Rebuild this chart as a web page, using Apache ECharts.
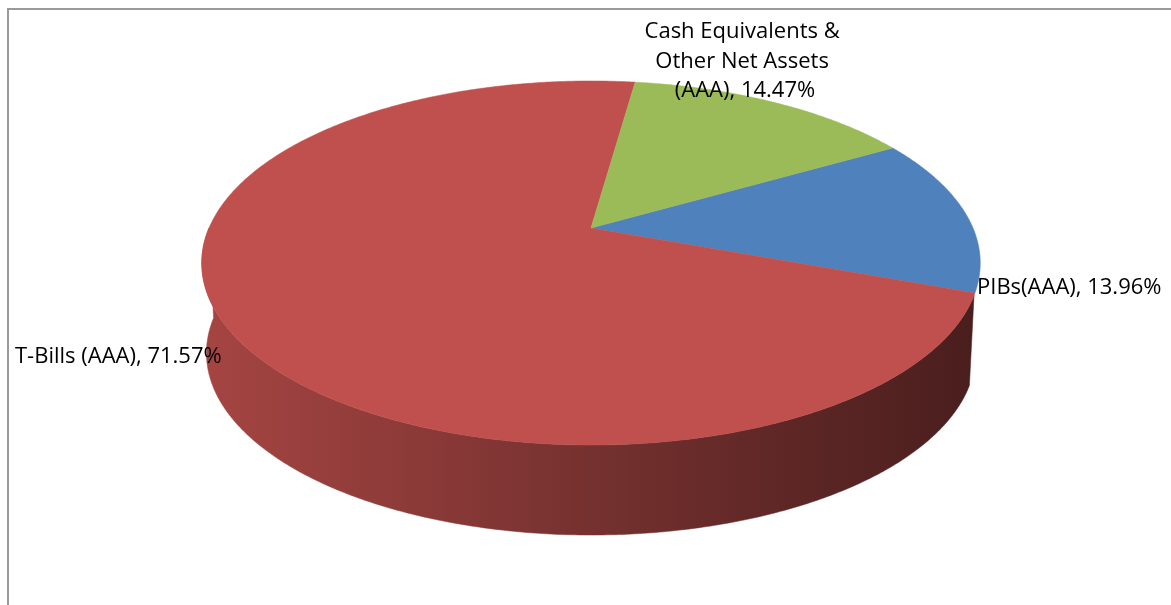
<!DOCTYPE html>
<html>
<head>
<meta charset="utf-8">
<script src="https://cdn.jsdelivr.net/npm/echarts@6/dist/echarts.min.js"></script>
<style>
html,body{margin:0;padding:0;background:#fff;}
#chart{width:1171px;height:605px;}
</style>
</head>
<body>
<div id="chart"></div>
<script>
// ---- data ----
const categories = ['PIBs(AAA)', 'T-Bills (AAA)', 'Cash Equivalents & Other Net Assets (AAA)'];
const values = [13.96, 71.57, 14.47];

// ---- styling / layout (not data) ----
const COLORS = ['#4F81BD', '#C0504D', '#9BBB59'];
const CX = 591, CY = 228;      // apex of the top face
const A = 382, B = 175.3, K = 0.1923; // perspective ellipse params
const DEPTH = 90;
const BOTTOM_XSCALE = 0.988;
const START = 60;              // angle (deg, clockwise from 12 o'clock) of first slice
const SIDE_FROM = 111, SIDE_TO = 270; // visible range of the side wall
const FONT = '22px "Open Sans", sans-serif';
const LABELS = [
  {x: 977, y: 288, align: 'left', verticalAlign: 'middle'},
  {x: 15, y: 357, align: 'left', verticalAlign: 'middle'},
  {x: 745, y: 17, align: 'center', verticalAlign: 'top', width: 225}
];

const total = values.reduce((s, v) => s + v, 0);
const angles = [];
(function () {
  let a = START;
  values.forEach(v => { const span = v / total * 360; angles.push([a, a + span]); a += span; });
})();

function proj(phi, dy, xs) {
  const r = phi * Math.PI / 180;
  const c = Math.sin(r), s = -Math.cos(r);
  const w = 1 - K * s;
  return [CX + (xs || 1) * A * c / w, CY + B * s / w + (dy || 0)];
}

function shade(hex, f) {
  const n = parseInt(hex.slice(1), 16);
  const r = Math.round(((n >> 16) & 255) * f), g = Math.round(((n >> 8) & 255) * f), b = Math.round((n & 255) * f);
  return 'rgb(' + r + ',' + g + ',' + b + ')';
}

function renderSide(params, api) {
  const i = params.dataIndex;
  const [a0, a1] = angles[i];
  const children = [];
  [[SIDE_FROM, SIDE_TO], [SIDE_FROM + 360, SIDE_TO + 360]].forEach(([v0, v1]) => {
    const lo = Math.max(a0, v0), hi = Math.min(a1, v1);
    if (lo >= hi) return;
    const pts = [];
    for (let a = lo; a < hi; a += 0.5) pts.push(proj(a, 0));
    pts.push(proj(hi, 0));
    for (let a = hi; a > lo; a -= 0.5) pts.push(proj(a, DEPTH, BOTTOM_XSCALE));
    pts.push(proj(lo, DEPTH, BOTTOM_XSCALE));
    const col = COLORS[i];
    const grad = new echarts.graphic.LinearGradient(CX - A * 1.02, 0, CX + A * 1.02, 0, [
      {offset: 0, color: shade(col, 0.86)},
      {offset: 0.25, color: shade(col, 0.74)},
      {offset: 0.5, color: shade(col, 0.61)},
      {offset: 0.75, color: shade(col, 0.49)},
      {offset: 1, color: shade(col, 0.38)}
    ], true);
    children.push({type: 'polygon', shape: {points: pts}, style: {fill: grad, stroke: grad, lineWidth: 0.5}});
  });
  return {type: 'group', children: children};
}

function renderTop(params, api) {
  const i = params.dataIndex;
  const [a0, a1] = angles[i];
  const pts = [[CX, CY]];
  for (let a = a0; a < a1; a += 0.5) pts.push(proj(a, 0));
  pts.push(proj(a1, 0));
  const L = LABELS[i];
  const txt = categories[i] + ', ' + api.value(1).toFixed(2) + '%';
  const textStyle = {
    text: txt, x: L.x, y: L.y, font: FONT, fill: '#000',
    align: L.align, verticalAlign: L.verticalAlign, lineHeight: 29.5
  };
  if (L.width) { textStyle.width = L.width; textStyle.overflow = 'break'; }
  return {
    type: 'group',
    children: [
      {type: 'polygon', shape: {points: pts}, style: {fill: COLORS[i], stroke: COLORS[i], lineWidth: 0.5}},
      {type: 'text', z2: 10, style: textStyle}
    ]
  };
}

const chart = echarts.init(document.getElementById('chart'), null, {renderer: 'canvas'});
const seriesData = values.map((v, i) => [i, v]);
chart.setOption({
  animation: false,
  backgroundColor: '#fff',
  graphic: [{
    type: 'rect', silent: true, z: 0,
    shape: {x: 8, y: 9, width: 1300, height: 800},
    style: {fill: 'none', stroke: '#9a9a9a', lineWidth: 2}
  }],
  series: [
    {type: 'custom', coordinateSystem: 'none', silent: true, z: 1, data: seriesData, renderItem: renderSide},
    {type: 'custom', coordinateSystem: 'none', silent: true, z: 2, data: seriesData, renderItem: renderTop}
  ]
});
</script>
</body>
</html>
